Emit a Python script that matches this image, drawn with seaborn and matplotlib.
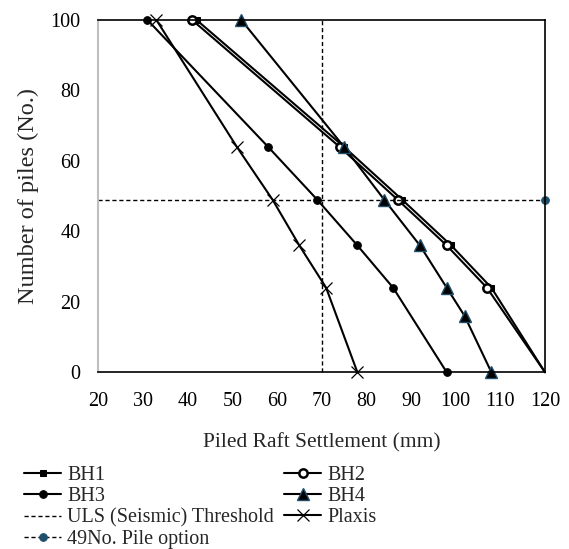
import matplotlib
matplotlib.use("Agg")
import matplotlib.pyplot as plt
import pandas as pd
import seaborn as sns

# number of piles (y) and settlement in mm (x) for each curve
piles = [100, 64, 49, 36, 24, 0]
bh1 = [42, 75, 88, 99, 108, 120]
bh2 = [41, 74, 87, 98, 107, 120]
bh3 = [31, 58, 69, 78, 86, 98]
bh4_piles = [100, 64, 49, 36, 24, 16, 0]
bh4 = [52, 75, 84, 92, 98, 102, 108]
plaxis = [33, 51, 59, 65, 71, 78]

uls_x = [70, 70]
uls_y = [0, 100]
option_x = [20, 120]
option_y = [49, 49]

navy = "#1f4e6b"


def makeCurve(ax, xs, ys, label, **kw):
    df = pd.DataFrame({"settlement": xs, "piles": ys})
    sns.lineplot(x="settlement", y="piles", data=df, sort=False,
                 estimator=None, ax=ax, label=label, **kw)
    return ax.lines[-1]


def main():
    sns.set_style("white")
    plt.rcParams["font.family"] = ["Liberation Serif", "DejaVu Serif"]

    fig = plt.figure(figsize=(5.69, 5.49), dpi=100)
    ax = fig.add_axes([0.1728, 0.3219, 0.785, 0.6417])

    h1 = makeCurve(ax, bh1, piles, "BH1", color="black", lw=1.5,
                   marker="s", ms=5, mfc="black", mec="black",
                   markevery=[0, 1, 2, 3, 4])
    h2 = makeCurve(ax, bh2, piles, "BH2", color="black", lw=1.5,
                   marker="o", ms=6, mfc="white", mec="black", mew=1.8,
                   markevery=[0, 1, 2, 3, 4])
    h3 = makeCurve(ax, bh3, piles, "BH3", color="black", lw=1.5,
                   marker="o", ms=5.5, mfc="black", mec="black")
    h4 = makeCurve(ax, bh4, bh4_piles, "BH4", color="black", lw=1.5,
                   marker="^", ms=8, mfc="black", mec=navy, mew=1.0)
    h5 = makeCurve(ax, uls_x, uls_y, "ULS (Seismic) Threshold",
                   color="black", lw=1.0, linestyle=(0, (3, 2)))
    h6 = makeCurve(ax, plaxis, piles, "Plaxis", color="black", lw=1.5,
                   marker="x", ms=8, mew=0.9, mec="black")
    h7 = makeCurve(ax, option_x, option_y, "49No. Pile option",
                   color="black", lw=1.0, linestyle=(0, (3, 2)),
                   marker="o", ms=5.5, mfc=navy, mec=navy,
                   markevery=[1])
    for ln in ax.lines:
        ln.set_clip_on(False)

    ax.set_xlim(20, 120)
    ax.set_ylim(0, 100)
    ax.set_xticks(range(20, 121, 10))
    ax.set_yticks(range(0, 101, 20))
    ax.tick_params(direction="in", length=5, width=1, colors="black",
                   labelsize=14.5)
    ax.tick_params(axis="x", pad=14)
    ax.tick_params(axis="y", length=5, color="#bfbfbf", pad=13)
    for side in ["top", "right", "bottom"]:
        ax.spines[side].set_color("black")
        ax.spines[side].set_linewidth(1.2)
    ax.spines["left"].set_color("#bfbfbf")
    ax.spines["left"].set_linewidth(1.5)

    ax.set_xlabel("Piled Raft Settlement (mm)", fontsize=15.5, labelpad=16)
    ax.set_ylabel("Number of piles (No.)", fontsize=17.5, labelpad=8)

    ax.get_legend().remove()
    handles = [h1, h3, h5, h7, h2, h4, h6]
    labels = [h.get_label() for h in handles]
    fig.legend(handles, labels, loc="upper left",
               bbox_to_anchor=(0.042, 0.151), ncol=2, frameon=False,
               fontsize=14.5, handlelength=1.85, handletextpad=0.3,
               labelspacing=0.1, columnspacing=0.5, borderpad=0,
               borderaxespad=0)

    fig.savefig("out.png", dpi=100)
    plt.close()


if __name__ == '__main__':
    main()
